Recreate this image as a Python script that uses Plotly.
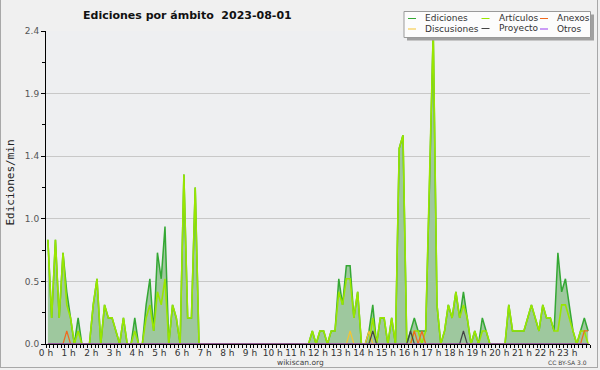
import plotly.graph_objects as go

# 10-minute bins (144 per day), edits per minute
hours_labels = [f"{h} h" for h in range(24)]

ediciones = [
    0.8, 0.2, 0.8, 0.2, 0.7, 0.4, 0.2, 0.0, 0.2, 0.0, 0.0, 0.0,      # 0-1h
    0.3, 0.5, 0.0, 0.3, 0.2, 0.2, 0.1, 0.0, 0.2, 0.0, 0.0, 0.2,      # 2-3h
    0.0, 0.0, 0.3, 0.5, 0.1, 0.7, 0.5, 0.9, 0.0, 0.3, 0.2, 0.0,      # 4-5h
    1.3, 0.2, 0.2, 1.2, 0.0, 0.0, 0.0, 0.0, 0.0, 0.0, 0.0, 0.0,      # 6-7h
    0.0, 0.0, 0.0, 0.0, 0.0, 0.0, 0.0, 0.0, 0.0, 0.0, 0.0, 0.0,      # 8-9h
    0.0, 0.0, 0.0, 0.0, 0.0, 0.0, 0.0, 0.0, 0.0, 0.0, 0.1, 0.0,      # 10-11h
    0.1, 0.1, 0.0, 0.1, 0.1, 0.5, 0.3, 0.6, 0.6, 0.2, 0.4, 0.0,      # 12-13h
    0.0, 0.1, 0.3, 0.0, 0.2, 0.2, 0.0, 0.2, 0.0, 1.5, 1.6, 0.0,      # 14-15h
    0.1, 0.2, 0.1, 0.1, 0.1, 1.2, 2.4, 0.3, 0.0, 0.1, 0.3, 0.2,      # 16-17h
    0.4, 0.2, 0.4, 0.2, 0.0, 0.1, 0.0, 0.2, 0.1, 0.0, 0.0, 0.0,      # 18-19h
    0.0, 0.0, 0.3, 0.1, 0.1, 0.1, 0.1, 0.2, 0.3, 0.2, 0.1, 0.3,      # 20-21h
    0.2, 0.2, 0.1, 0.7, 0.4, 0.5, 0.3, 0.1, 0.0, 0.1, 0.2, 0.1,      # 22-23h
]

articulos = [
    0.8, 0.2, 0.8, 0.2, 0.7, 0.3, 0.2, 0.0, 0.1, 0.0, 0.0, 0.0,
    0.3, 0.5, 0.0, 0.3, 0.2, 0.2, 0.1, 0.0, 0.2, 0.0, 0.0, 0.1,
    0.0, 0.0, 0.2, 0.3, 0.1, 0.4, 0.3, 0.5, 0.0, 0.3, 0.2, 0.0,
    1.3, 0.2, 0.2, 1.2, 0.0, 0.0, 0.0, 0.0, 0.0, 0.0, 0.0, 0.0,
    0.0, 0.0, 0.0, 0.0, 0.0, 0.0, 0.0, 0.0, 0.0, 0.0, 0.0, 0.0,
    0.0, 0.0, 0.0, 0.0, 0.0, 0.0, 0.0, 0.0, 0.0, 0.0, 0.1, 0.0,
    0.1, 0.1, 0.0, 0.1, 0.1, 0.4, 0.3, 0.5, 0.5, 0.2, 0.4, 0.0,
    0.0, 0.0, 0.2, 0.0, 0.2, 0.2, 0.0, 0.2, 0.0, 1.5, 1.6, 0.0,
    0.0, 0.1, 0.1, 0.0, 0.1, 1.2, 2.4, 0.3, 0.0, 0.1, 0.3, 0.2,
    0.4, 0.2, 0.3, 0.2, 0.0, 0.1, 0.0, 0.1, 0.1, 0.0, 0.0, 0.0,
    0.0, 0.0, 0.3, 0.1, 0.1, 0.1, 0.1, 0.2, 0.3, 0.2, 0.1, 0.3,
    0.2, 0.2, 0.1, 0.1, 0.3, 0.3, 0.2, 0.1, 0.0, 0.1, 0.1, 0.0,
]

anexos = [0.0] * 144
for i in (5, 97, 99, 142, 143):
    anexos[i] = 0.1
discusiones = [0.0] * 144
for i in (80, 85):
    discusiones[i] = 0.1
proyecto = [0.0] * 144
for i in (86, 96, 110):
    proyecto[i] = 0.1
otros = [0.0] * 144

x = [(i + 0.5) / 6 for i in range(144)]

y_tickvals = [0, 0.48, 0.96, 1.44, 1.92, 2.4]
y_ticktext = ["0.0", "0.5", "1.0", "1.4", "1.9", "2.4"]

C_EDIC = "#34a834"
C_ART = "#99e600"
C_ANEX = "#f06a1e"
C_DISC = "#f5c431"
C_PROY = "#444444"
C_OTROS = "#9a3cf0"
C_FILL = "#9ec89e"

fig = go.Figure()
fig.add_trace(go.Scatter(x=x, y=ediciones, mode="lines", fill="tozeroy",
                         fillcolor=C_FILL, line=dict(color=C_EDIC, width=1.5),
                         name="Ediciones"))
fig.add_trace(go.Scatter(x=x, y=articulos, mode="lines",
                         line=dict(color=C_ART, width=1.6), name="Artículos"))
fig.add_trace(go.Scatter(x=x, y=anexos, mode="lines",
                         line=dict(color=C_ANEX, width=1.2), name="Anexos"))
fig.add_trace(go.Scatter(x=x, y=discusiones, mode="lines",
                         line=dict(color=C_DISC, width=1.2), name="Discusiones"))
fig.add_trace(go.Scatter(x=x, y=proyecto, mode="lines",
                         line=dict(color=C_PROY, width=1.2), name="Proyecto"))
fig.add_trace(go.Scatter(x=x, y=otros, mode="lines",
                         line=dict(color=C_OTROS, width=1.2), name="Otros"))

L, R, T, B = 46, 10, 31, 26
W, H = 600, 370
PW, PH = W - L - R, H - T - B


def px(v):
    return (v - L) / PW


def py(v):
    return (H - B - v) / PH


shapes = []
annotations = []

# outer border
for (x0, y0, x1, y1) in [(0.5, 0, 0.5, 368), (0.5, 367.5, 597.5, 367.5),
                         (597.5, 0, 597.5, 368)]:
    shapes.append(dict(type="line", xref="paper", yref="paper",
                       x0=px(x0), y0=py(y0), x1=px(x1), y1=py(y1),
                       line=dict(color="#a8a8a8", width=1), layer="above"))

# legend box with shadow
shapes.append(dict(type="rect", xref="paper", yref="paper",
                   x0=px(407), y0=py(14.5), x1=px(594), y1=py(40.5),
                   fillcolor="#a0a0a0", line=dict(width=0), layer="above"))
shapes.append(dict(type="rect", xref="paper", yref="paper",
                   x0=px(404), y0=py(11.5), x1=px(590.5), y1=py(37.5),
                   fillcolor="#fcfcfc", line=dict(color="#9a9a9a", width=1),
                   layer="above"))

legend_items = [
    ("Ediciones", C_EDIC, 408, 18.5), ("Artículos", C_ART, 481.5, 18.5),
    ("Anexos", C_ANEX, 540, 18.5), ("Discusiones", C_DISC, 408, 29),
    ("Proyecto", C_PROY, 481.5, 28.5), ("Otros", C_OTROS, 540, 29),
]
for name, col, lx, ly in legend_items:
    shapes.append(dict(type="line", xref="paper", yref="paper",
                       x0=px(lx), y0=py(ly), x1=px(lx + 8), y1=py(ly),
                       line=dict(color=col, width=1), layer="above"))
    annotations.append(dict(text=name, xref="paper", yref="paper",
                            x=px(lx + 15), y=py(ly), xanchor="left",
                            yanchor="middle", showarrow=False,
                            font=dict(family="DejaVu Sans", size=9, color="#333")))

annotations += [
    dict(text="<b>Ediciones por ámbito \u00a02023-08-01</b>", xref="paper",
         yref="paper", x=px(187), y=py(15), xanchor="center", yanchor="middle",
         showarrow=False, font=dict(family="DejaVu Sans", size=11, color="#111")),
    dict(text="Ediciones/min", xref="paper", yref="paper", x=px(9.5),
         y=py(183), textangle=-90, xanchor="center", yanchor="middle",
         showarrow=False,
         font=dict(family="DejaVu Sans Mono", size=11, color="#222")),
    dict(text="wikiscan.org", xref="paper", yref="paper", x=px(300),
         y=py(362), xanchor="center", yanchor="middle", showarrow=False,
         font=dict(family="DejaVu Sans", size=7.5, color="#444")),
    dict(text="CC BY-SA 3.0", xref="paper", yref="paper", x=px(589),
         y=py(362.5), xanchor="right", yanchor="middle", showarrow=False,
         font=dict(family="DejaVu Sans", size=6, color="#444")),
]

fig.update_layout(
    width=W, height=H, margin=dict(l=L, r=R, t=T, b=B, autoexpand=False),
    paper_bgcolor="#f0f0f0", plot_bgcolor="#eeeff1", showlegend=False,
    font=dict(family="DejaVu Sans", size=9, color="#444"),
    shapes=shapes, annotations=annotations,
    xaxis=dict(range=[0, 24], tickvals=list(range(24)), ticktext=hours_labels,
               ticks="outside", ticklen=3, tickcolor="#000", showline=True,
               linecolor="#000", linewidth=1, showgrid=False, zeroline=False,
               automargin=False, ticklabelstandoff=-3,
               tickfont=dict(size=9, color="#333"), fixedrange=True,
               minor=dict(dtick=1 / 6, tick0=0, ticks="outside", ticklen=3,
                          tickcolor="#000", showgrid=False)),
    yaxis=dict(range=[0, 2.4], tickvals=y_tickvals, ticktext=y_ticktext,
               ticks="outside", ticklen=4, tickcolor="#000", showline=True,
               linecolor="#000", linewidth=1, showgrid=True,
               gridcolor="#c8c8c8", zeroline=False, automargin=False,
               tickfont=dict(size=9, color="#555"), fixedrange=True,
               minor=dict(tickvals=[0.24, 0.72, 1.2, 1.68, 2.16],
                          ticks="outside", ticklen=3, tickcolor="#000",
                          showgrid=False)),
)

fig.write_html("out.html", config={"displayModeBar": False})

# remove default page margin so the figure sits at the window's top-left
with open("out.html", "r", encoding="utf-8") as f:
    html = f.read()
html = html.replace("<head>", "<head><style>html,body{margin:0;padding:0;overflow:hidden;background:#f0f0f0}</style>", 1)
with open("out.html", "w", encoding="utf-8") as f:
    f.write(html)
